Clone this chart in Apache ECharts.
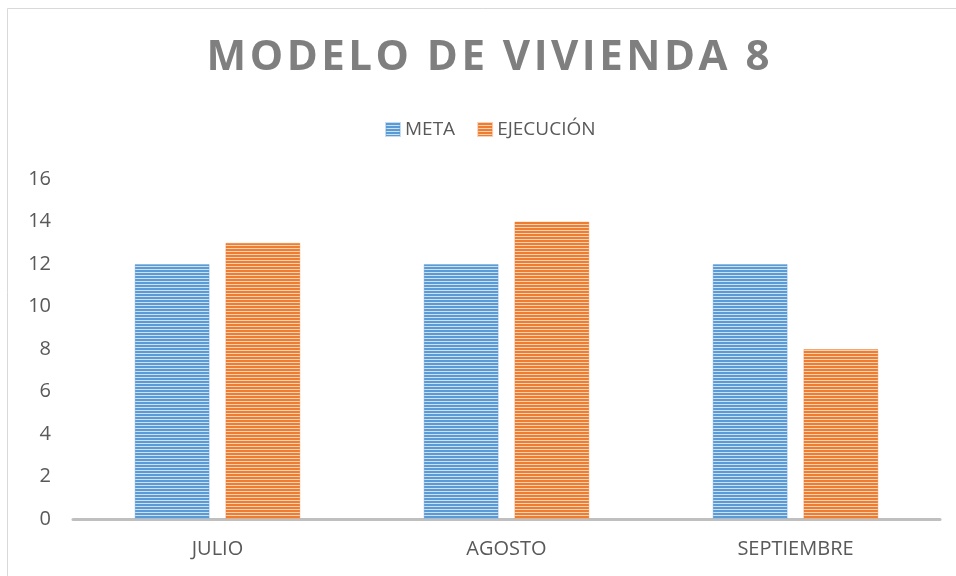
<!DOCTYPE html>
<html>
<head>
<meta charset="utf-8">
<script src="https://cdn.jsdelivr.net/npm/echarts@6/dist/echarts.min.js"></script>
<style>
  html, body { margin: 0; padding: 0; background: #fff; }
  #chart { width: 956px; height: 576px; }
</style>
</head>
<body>
<div id="chart"></div>
<script>
const categories = ["JULIO", "AGOSTO", "SEPTIEMBRE"];
const metaValues = [12, 12, 12];
const ejecucionValues = [13, 14, 8];
const seriesNames = ["META", "EJECUCIÓN"];
const yTicks = { min: 0, max: 16, interval: 2 };
const titleText = "MODELO DE VIVIENDA 8";

// striped fill like the office "horizontal lines" pattern
function stripes(dark, light) {
  const c = document.createElement("canvas");
  c.width = 4;
  c.height = 3;
  const ctx = c.getContext("2d");
  ctx.fillStyle = light;
  ctx.fillRect(0, 0, 4, 3);
  ctx.fillStyle = dark;
  ctx.fillRect(0, 0, 4, 2);
  return { image: c, repeat: "repeat" };
}

const blue = stripes("#5b9bd5", "#cfe0f2");
const orange = stripes("#ed7d31", "#f9d2b8");

const font = "'Open Sans', 'Liberation Sans', sans-serif";

// canvas text has no letter-spacing, so pad each character
const spaced = titleText.split("").map((ch, i) =>
  "{" + (i === titleText.length - 1 ? "e" : "s") + "|" + ch + "}"
).join("");
const titleLetter = { color: "#7f7f7f", fontFamily: font, fontWeight: "bold", fontSize: 42 };

const chart = echarts.init(document.getElementById("chart"), null, { renderer: "canvas" });

chart.setOption({
  animation: false,
  backgroundColor: "#fff",
  title: {
    text: spaced,
    left: 483,
    top: 32,
    textAlign: "center",
    textStyle: {
      color: "#7f7f7f",
      fontFamily: font,
      fontWeight: "bold",
      fontSize: 42,
      rich: {
        s: Object.assign({ padding: [0, 3.5, 0, 0] }, titleLetter),
        e: titleLetter
      }
    }
  },
  legend: {
    left: 380,
    top: 115,
    icon: "rect",
    itemWidth: 14,
    itemHeight: 13,
    itemGap: 22,
    textStyle: { color: "#595959", fontFamily: font, fontSize: 19 },
    data: seriesNames
  },
  graphic: [{
    type: "rect",
    left: 5,
    top: 6,
    shape: { x: 0.5, y: 0.5, width: 1000, height: 700 },
    style: { fill: null, stroke: "#d9d9d9", lineWidth: 1 },
    silent: true
  }],
  grid: {
    left: 73,
    right: 16,
    top: 179,
    bottom: 57,
    containLabel: false
  },
  xAxis: {
    type: "category",
    data: categories,
    axisLine: { lineStyle: { color: "#bfbfbf", width: 3 } },
    axisTick: { show: false },
    axisLabel: { color: "#595959", fontFamily: font, fontSize: 20, margin: 20 }
  },
  yAxis: {
    type: "value",
    min: yTicks.min,
    max: yTicks.max,
    interval: yTicks.interval,
    axisLine: { show: false },
    axisTick: { show: false },
    splitLine: { show: false },
    axisLabel: { color: "#595959", fontFamily: font, fontSize: 20, margin: 22 }
  },
  series: [
    {
      name: seriesNames[0],
      type: "bar",
      data: metaValues,
      barWidth: 75,
      barGap: "21%",
      itemStyle: { color: blue, borderColor: "rgba(91,155,213,0.35)", borderWidth: 1 }
    },
    {
      name: seriesNames[1],
      type: "bar",
      data: ejecucionValues,
      barWidth: 75,
      barGap: "21%",
      itemStyle: { color: orange, borderColor: "rgba(237,125,49,0.35)", borderWidth: 1 }
    }
  ]
});
</script>
</body>
</html>
